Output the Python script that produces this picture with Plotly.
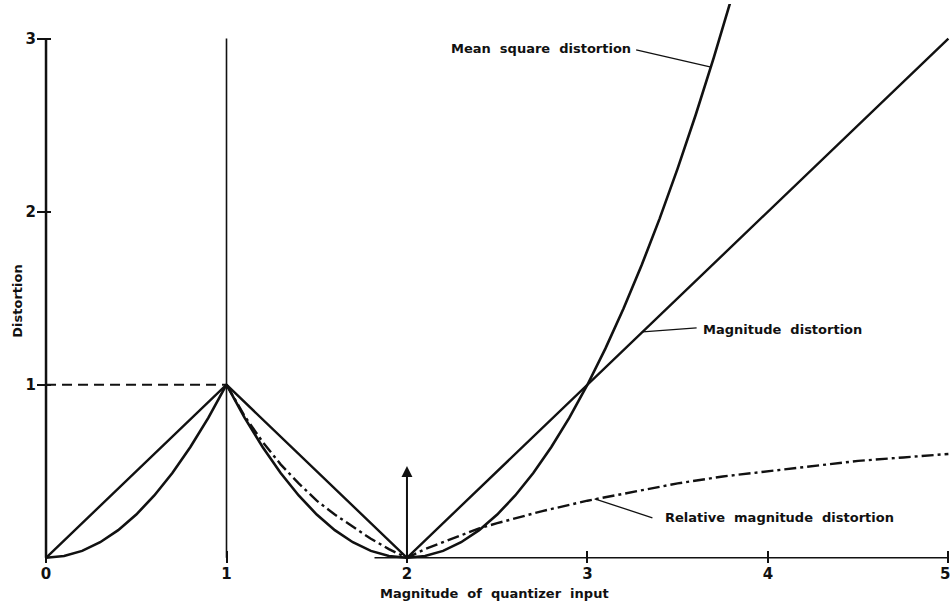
import plotly.graph_objects as go

# ---- data ----
# Magnitude distortion (solid, piecewise linear)
mag_x = [0, 1, 2, 5]
mag_y = [0, 1, 0, 3]

# Mean square distortion (solid curve)
ms_x = [0.0, 0.1, 0.2, 0.3, 0.4, 0.5, 0.6, 0.7, 0.8, 0.9, 1.0,
        1.1, 1.2, 1.3, 1.4, 1.5, 1.6, 1.7, 1.8, 1.9, 2.0,
        2.1, 2.2, 2.3, 2.4, 2.5, 2.6, 2.7, 2.8, 2.9, 3.0,
        3.1, 3.2, 3.3, 3.4, 3.5, 3.6, 3.7, 3.8]
ms_y = [0.0, 0.01, 0.04, 0.09, 0.16, 0.25, 0.36, 0.49, 0.64, 0.81, 1.0,
        0.81, 0.64, 0.49, 0.36, 0.25, 0.16, 0.09, 0.04, 0.01, 0.0,
        0.01, 0.04, 0.09, 0.16, 0.25, 0.36, 0.49, 0.64, 0.81, 1.0,
        1.21, 1.44, 1.69, 1.96, 2.25, 2.56, 2.89, 3.24]

# Relative magnitude distortion: dashed part (input below 1)
rel_dash_x = [0, 1]
rel_dash_y = [1, 1]

# Relative magnitude distortion: dash-dot part
rel_x = [1.0, 1.1, 1.2, 1.3, 1.4, 1.5, 1.6, 1.7, 1.8, 1.9, 2.0,
         2.1, 2.2, 2.3, 2.4, 2.5, 2.75, 3.0, 3.25, 3.5, 3.75, 4.0, 4.25, 4.5, 4.75, 5.0]
rel_y = [1.0, 0.82, 0.67, 0.54, 0.43, 0.33, 0.25, 0.18, 0.11, 0.05, 0.0,
         0.05, 0.09, 0.13, 0.17, 0.2, 0.27, 0.33, 0.38, 0.43, 0.47, 0.5, 0.53, 0.56, 0.58, 0.6]

# Impulse arrow at input 2
arrow_x = 2
arrow_top = 0.53

x_ticks = [0, 1, 2, 3, 4, 5]
x_ticktext = ["0", "1", "2", "3", "4", ""]   # the last label "5" is placed separately at the edge
x_last_label = "5"
y_ticks = [1, 2, 3]
y_ticktext = ["1", "2", "3"]

FONT = "DejaVu Sans"
BLACK = "#111111"

fig = go.Figure()

fig.add_trace(go.Scatter(x=ms_x, y=ms_y, mode="lines",
                         line=dict(color=BLACK, width=2.6), hoverinfo="skip"))
fig.add_trace(go.Scatter(x=mag_x, y=mag_y, mode="lines",
                         line=dict(color=BLACK, width=2.4), hoverinfo="skip"))
fig.add_trace(go.Scatter(x=rel_dash_x, y=rel_dash_y, mode="lines",
                         line=dict(color=BLACK, width=2, dash="10px,6px"), hoverinfo="skip"))
fig.add_trace(go.Scatter(x=rel_x, y=rel_y, mode="lines",
                         line=dict(color=BLACK, width=2.4, dash="12px,4px,3px,4px"),
                         hoverinfo="skip"))

# axis lines and the vertical line at input 1
fig.add_shape(type="line", x0=0, x1=0, y0=0, y1=3, xref="x", yref="y",
              line=dict(color=BLACK, width=2.5))
fig.add_shape(type="line", x0=1, x1=1, y0=0, y1=3, xref="x", yref="y",
              line=dict(color=BLACK, width=1.6))
fig.add_shape(type="line", x0=1.82, x1=5, y0=0, y1=0, xref="x", yref="y",
              line=dict(color=BLACK, width=1.5))

# leader lines for labels
fig.add_shape(type="line", x0=3.27, y0=2.935, x1=3.685, y1=2.835,
              line=dict(color=BLACK, width=1.3))
fig.add_shape(type="line", x0=3.306, y0=1.306, x1=3.605, y1=1.329,
              line=dict(color=BLACK, width=1.3))
fig.add_shape(type="line", x0=3.04, y0=0.341, x1=3.36, y1=0.231,
              line=dict(color=BLACK, width=1.3))

ann_font = dict(family=FONT, size=13, color=BLACK, weight="bold")
fig.add_annotation(x=3.25, y=2.945, text="Mean  square  distortion", showarrow=False,
                   xanchor="right", yanchor="middle", font=ann_font)
fig.add_annotation(x=3.627, y=1.318, text="Magnitude  distortion", showarrow=False,
                   xanchor="left", yanchor="middle", font=ann_font)
fig.add_annotation(x=3.42, y=0.231, text="Relative  magnitude  distortion", showarrow=False,
                   xanchor="left", yanchor="middle", font=ann_font)

# impulse arrow
fig.add_annotation(x=arrow_x, y=arrow_top, ax=arrow_x, ay=0, axref="x", ayref="y",
                   xref="x", yref="y", text="", showarrow=True,
                   arrowhead=2, arrowsize=1.1, arrowwidth=2, arrowcolor=BLACK)

tick_font = dict(family=FONT, size=15, color=BLACK, weight="bold")

# last x tick label, kept inside the page edge
fig.add_annotation(xref="paper", yref="y", x=1, y=0, yshift=-16,
                   text=x_last_label, showarrow=False,
                   xanchor="right", yanchor="middle", font=tick_font)

# axis titles
fig.add_annotation(xref="paper", yref="paper", x=0.5, y=0, yshift=-30,
                   text="Magnitude  of  quantizer  input", showarrow=False,
                   xanchor="center", yanchor="middle", font=ann_font)
fig.add_annotation(xref="paper", yref="y", x=0, xshift=-19, y=1.48,
                   text="Distortion", showarrow=False, textangle=-90,
                   xanchor="center", yanchor="middle",
                   font=dict(family=FONT, size=13, color=BLACK, weight="bold"))

fig.update_xaxes(range=[-0.05, 5.02], tickvals=x_ticks, ticktext=x_ticktext,
                 ticks="inside", ticklen=12, tickwidth=2, tickcolor=BLACK,
                 showline=False, showgrid=False, zeroline=False, automargin=False,
                 tickfont=tick_font)
fig.update_yaxes(range=[-0.03, 3.2], tickvals=y_ticks, ticktext=y_ticktext,
                 ticks="inside", ticklen=14, tickwidth=2, tickcolor=BLACK,
                 showline=False, showgrid=False, zeroline=False, automargin=False,
                 tickfont=tick_font)

fig.update_layout(width=952, height=605, showlegend=False,
                  margin=dict(l=37, r=0, t=4, b=42),
                  plot_bgcolor="white", paper_bgcolor="white",
                  font=dict(family=FONT, color=BLACK))

fig.write_html("out.html", config={"displayModeBar": False},
               post_script="document.body.style.margin='0';")
